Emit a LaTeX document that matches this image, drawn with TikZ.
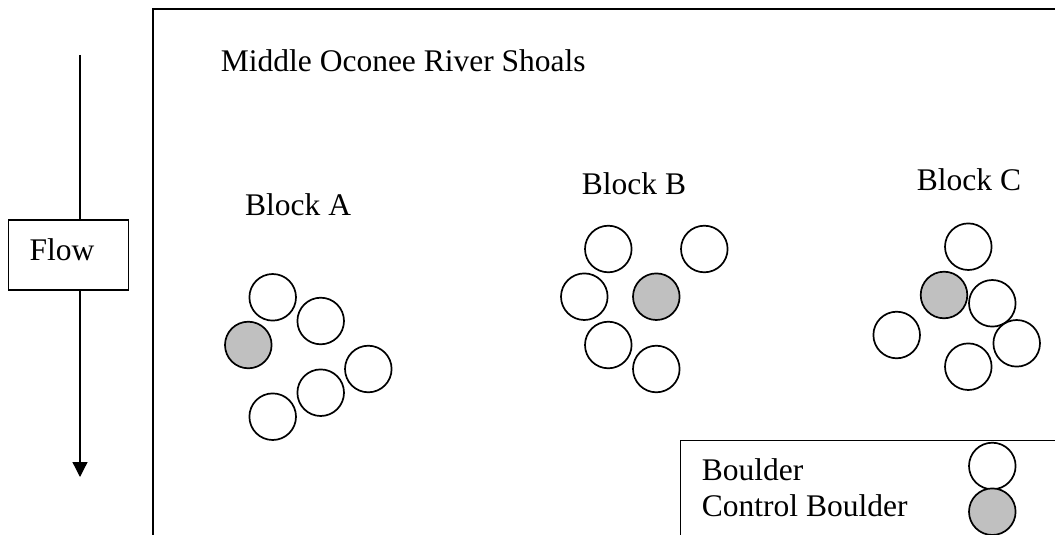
\documentclass[tikz,border=0pt]{standalone}
\usepackage{fontspec}
\setmainfont{Liberation Serif}
\usetikzlibrary{arrows.meta}
\definecolor{ctrlgray}{HTML}{C0C0C0}
\begin{document}
\begin{tikzpicture}[x=1pt,y=-1pt,
  txt/.style={font=\fontsize{31.5}{36}\selectfont, inner sep=0pt, anchor=base west},
  boulder/.style={circle, draw, line width=1.7pt, fill=white, inner sep=0pt, minimum size=46.6pt},
  ctrl/.style={boulder, fill=ctrlgray},
  frame/.style={line width=1.4pt}]
\clip (0,0) rectangle (1055,535);
\fill[white] (0,0) rectangle (1055,535);
% main frame
\draw[frame] (153,545) -- (153,9) -- (1070,9);
% flow indicator
\node[draw, line width=1.3pt, minimum width=120.4pt, minimum height=70pt, inner sep=0pt] (flow) at (68.5,255) {};
\node[txt] (flowtxt) at (29.3,260) {Flow};
\coordinate (ftop) at (80,55);
\coordinate (fbot) at (80,477);
\draw[line width=1.3pt] (ftop) -- (ftop |- flow.north);
\draw[line width=1.3pt, -{Triangle[length=15pt,width=15pt]}] (ftop |- flow.south) -- (fbot);
% title and labels
\node[txt] (title) at (220.7,71.7) {Middle Oconee River Shoals};
\node[txt] (la) at (245,215.7) {Block A};
\node[txt] (lb) at (581.7,194.3) {Block B};
\node[txt] (lc) at (916.7,190.7) {Block C};
% Block A
\node[boulder] (a1) at (272.7,297.3) {};
\node[boulder] (a2) at (320.7,321) {};
\node[ctrl]    (a3) at (248.3,345) {};
\node[boulder] (a4) at (368.3,369) {};
\node[boulder] (a5) at (320.7,392.7) {};
\node[boulder] (a6) at (272.7,416.7) {};
% Block B
\node[boulder] (b1) at (608.3,249) {};
\node[boulder] (b2) at (704.3,249) {};
\node[boulder] (b3) at (584.3,296.7) {};
\node[ctrl]    (b4) at (656.3,296.7) {};
\node[boulder] (b5) at (608.3,345) {};
\node[boulder] (b6) at (656.3,369) {};
% Block C
\node[boulder] (c1) at (968.3,246.7) {};
\node[ctrl]    (c2) at (944,295) {};
\node[boulder] (c3) at (992.3,303.3) {};
\node[boulder] (c4) at (1016.7,343.3) {};
\node[boulder] (c5) at (896.7,335) {};
\node[boulder] (c6) at (968.3,366.7) {};
% legend
\draw[frame] (680.7,545) -- (680.7,440.7) -- (1070,440.7);
\node[txt] (lg1) at (701.7,480.7) {Boulder};
\node[txt] (lg2) at (701.7,516) {Control Boulder};
\node[boulder] (lgb) at (992.3,466) {};
\node[ctrl]    (lgc) at (992.3,511.7) {};
\end{tikzpicture}
\end{document}
